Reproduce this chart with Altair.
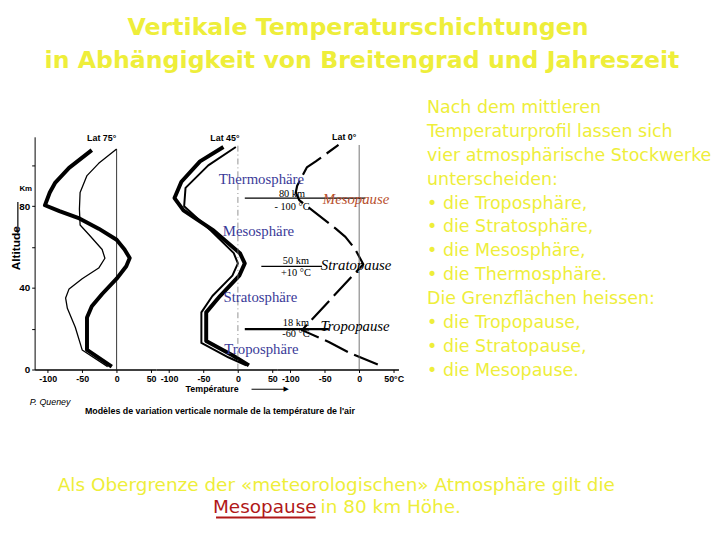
import altair as alt
import pandas as pd

# ---------------- data ----------------
# Lat 75°  (thick = summer, thin = winter)
t75_summer = [-7, -43, -43, -36, -21, 0, 14, 19, 11.5, 0, -26, -54, -83, -104, -97, -89, -69, -36]
z75_summer = [1.4, 9.6, 25.5, 31, 37, 44.5, 50.6, 54.6, 58.8, 63.6, 69, 74, 77.6, 80.5, 86.7, 91.6, 98.8, 107.5]
t75_winter = [-13, -50, -60, -71.5, -74, -69, -50, -26, -17, -21, -40, -53, -54, -53, -43, -26, 0]
z75_winter = [1.4, 9.6, 20.7, 30, 35, 39.5, 44.5, 49.7, 54.5, 58.8, 66, 70.8, 78.6, 86.7, 95, 101, 108]

# Lat 45°
t45_summer = [16, -8, -46, -46, -26, 2, 10, 3, -35, -79, -92, -82, -55, -21]
z45_summer = [2, 7, 14, 28, 36, 46, 52, 57, 68, 78, 84, 92, 102, 109]
t45_winter = [12, -14, -53, -53, -37, -8, 0, -6, -39, -78, -76, -43, -3]
z45_winter = [2, 6, 13, 28, 36, 46, 52, 57, 68, 80, 89, 100, 109]

# Lat 0°
t0 = [27, -13, -44, -83, 6, -6, -20, -34, -87, -92, -90, -76, -63, -30]
z0 = [2.4, 8, 13.5, 19.3, 51.6, 59, 65, 69, 83, 86.7, 90, 99, 102, 110]

# 0 °C reference lines (top altitude per panel)
zero_top = [108, 110, 110]

# layer boundaries drawn across panels 2/3 (altitude, T start, T end in panel-3 units)
bound_name = ["Mesopause", "Stratopause", "Tropopause"]
bound_z = [84, 50.5, 19.8]
bound_t0 = [-166, -142, -166]
bound_t1 = [9, -54, -44]

x_ticks = [-100, -50, 0, 50]
y_ticks = [0, 20, 40, 60, 80, 100]


def profile(t, z):
    return pd.DataFrame({"T": t, "z": z, "i": list(range(len(t)))})


xs = alt.Scale(domain=[-119, 57], nice=False, zero=False)
ys = alt.Scale(domain=[0, 114], nice=False, zero=False)
W, H = 123, 236

YEL = "#eeee3a"
NAVY = "#3a3a98"

HYPHEN = "replace(datum.label, '\u2212', '-')"


def xaxis(expr=HYPHEN):
    return alt.Axis(values=x_ticks, title=None, grid=False, format="d", labelExpr=expr,
                    labelFont="Liberation Sans", labelFontWeight="bold", labelFontSize=9,
                    labelColor="black", domainColor="black", domainWidth=1.5,
                    tickColor="black", tickSize=3, labelPadding=2)


def yaxis():
    return alt.Axis(values=y_ticks, title=None, grid=False,
                    labelExpr="datum.value % 40 == 0 ? datum.label : ''",
                    labelFont="Liberation Sans", labelFontWeight="bold", labelFontSize=10,
                    labelColor="black", domainColor="black", tickColor="black",
                    tickSize=3, labelPadding=2)


dummy = pd.DataFrame({"d": [0]})


def note(text, x, y, **kw):
    return alt.Chart(dummy).mark_text(text=text, **kw).encode(
        x=alt.value(x), y=alt.value(y))


def line(t, z, width, ax, ay, dash=None):
    mk = dict(color="black", strokeJoin="round", strokeWidth=width)
    if dash:
        mk["strokeDash"] = dash
    return alt.Chart(profile(t, z)).mark_line(**mk).encode(
        x=alt.X("T:Q", scale=xs, axis=ax),
        y=alt.Y("z:Q", scale=ys, axis=ay),
        order="i:Q",
    )


def zero_rule(k, ax, ay, **kw):
    d = pd.DataFrame({"T": [0], "a": [0], "b": [zero_top[k]]})
    return alt.Chart(d).mark_rule(**kw).encode(
        x=alt.X("T:Q", scale=xs, axis=ax), y=alt.Y("a:Q", scale=ys, axis=ay), y2="b:Q")


lab = dict(font="Liberation Sans", fontWeight="bold", fontSize=9, color="black")

# ---------------- panel 1 (Lat 75°) + free texts ----------------
ax1, ay1 = xaxis(), yaxis()
p1 = alt.layer(
    line(t75_summer, z75_summer, 4, ax1, ay1),
    line(t75_winter, z75_winter, 1.3, ax1, ay1),
    zero_rule(0, ax1, ay1, color="black", strokeWidth=0.8),
    note("Lat  75°", 68, 1, **lab),
    note("Km", -9, 53, font="Liberation Sans", fontWeight="bold", fontSize=8, color="black"),
    note("Altitude", -19, 113, angle=270, font="Liberation Sans", fontWeight="bold",
         fontSize=12, color="black"),
    alt.Chart(dummy).mark_rule(color="black", strokeWidth=1.2).encode(
        x=alt.value(-17), y=alt.value(66), y2=alt.value(98)),
    note("P. Queney", -5, 269, align="left", font="Liberation Sans", fontStyle="italic",
         fontSize=9, color="black"),
    note("Modèles de variation verticale normale de la température de l'air", 51, 278,
         align="left", font="Liberation Sans", fontWeight="bold", fontSize=9, color="black"),
    note("Température", 180, 256, **lab),
    alt.Chart(dummy).mark_rule(color="black", strokeWidth=1).encode(
        x=alt.value(220), x2=alt.value(254), y=alt.value(256)),
    note("▶", 255, 256, font="DejaVu Sans", fontSize=7, color="black"),
    # title
    note("Vertikale Temperaturschichtungen", 328, -110, font="DejaVu Sans",
         fontWeight="bold", fontSize=24, color=YEL),
    note("in Abhängigkeit von Breitengrad und Jahreszeit", 332, -77, font="DejaVu Sans",
         fontWeight="bold", fontSize=24, color=YEL),
    # right block
    note(["Nach dem mittleren", "Temperaturprofil lassen sich",
          "vier atmosphärische Stockwerke", "unterscheiden:",
          "• die Troposphäre,", "• die Stratosphäre,", "• die Mesosphäre,",
          "• die Thermosphäre.", "Die Grenzflächen heissen:", "• die Tropopause,",
          "• die Stratopause,", "• die Mesopause."],
         398, -29, align="left", baseline="middle", lineHeight=24.2,
         font="DejaVu Sans", fontSize=17.7, color=YEL),
    # bottom lines
    note("Als Obergrenze der «meteorologischen» Atmosphäre gilt die", 306, 353,
         font="DejaVu Sans", fontSize=18.7, color=YEL),
    note("Mesopause", 286, 376, align="right", font="DejaVu Sans", fontSize=18.7,
         color="#b01818"),
    alt.Chart(dummy).mark_rule(color="#b01818", strokeWidth=2).encode(
        x=alt.value(184), x2=alt.value(285), y=alt.value(386)),
    note("in 80 km Höhe.", 290, 376, align="left", font="DejaVu Sans", fontSize=18.7,
         color=YEL),
).properties(width=W, height=H)

# ---------------- panel 2 (Lat 45°) ----------------
ax2 = xaxis()
p2 = alt.layer(
    line(t45_summer, z45_summer, 4, ax2, None),
    line(t45_winter, z45_winter, 2, ax2, None),
    zero_rule(1, ax2, None, color="#777777", strokeWidth=0.8, strokeDash=[6, 3, 1, 3]),
    note("Lat  45°", 70, 1, **lab),
).properties(width=W, height=H)

# ---------------- panel 3 (Lat 0°) + overlay annotations ----------------
ax3 = xaxis("datum.value == 50 ? '50°C' : " + HYPHEN)
bounds_df = pd.DataFrame({"name": bound_name, "z": bound_z, "t0": bound_t0, "t1": bound_t1})
serif = dict(font="Liberation Serif")
p3 = alt.layer(
    line(t0, z0, 2.2, ax3, None, dash=[26, 7]),
    zero_rule(2, ax3, None, color="#666666", strokeWidth=0.9),
    alt.Chart(bounds_df).transform_filter("datum.name != 'Tropopause'").mark_rule(
        color="black", strokeWidth=1.2).encode(
        x=alt.X("t0:Q", scale=xs, axis=ax3), x2="t1:Q",
        y=alt.Y("z:Q", scale=ys, axis=None)),
    alt.Chart(bounds_df).transform_filter("datum.name == 'Tropopause'").mark_rule(
        color="black", strokeWidth=2.2).encode(
        x=alt.X("t0:Q", scale=xs, axis=ax3), x2="t1:Q",
        y=alt.Y("z:Q", scale=ys, axis=None)),
    note("Lat  0°", 68, 0, **lab),
    note("Thermosphäre", -16, 43, fontSize=15, color=NAVY, **serif),
    note("Mesosphäre", -19, 96, fontSize=15, color=NAVY, **serif),
    note("Stratosphäre", -17, 163, fontSize=15, color=NAVY, **serif),
    note("Troposphäre", -16, 215, fontSize=15, color=NAVY, **serif),
    note("80 km", 15, 58, fontSize=10.5, color="black", **serif),
    note("- 100 °C", 15, 71, fontSize=10.5, color="black", **serif),
    note("50 km", 19, 126, fontSize=10.5, color="black", **serif),
    note("+10 °C", 19, 138, fontSize=10.5, color="black", **serif),
    note("18 km", 19, 189, fontSize=10.5, color="black", **serif),
    note("-60 °C", 19, 200, fontSize=10.5, color="black", **serif),
    note("Mesopause", 80, 63, fontSize=15, fontStyle="italic", color="#b8502e", **serif),
    note("Stratopause", 80, 130, fontSize=15, fontStyle="italic", color="black", **serif),
    note("Tropopause", 79, 192, fontSize=15, fontStyle="italic", color="black", **serif),
).properties(width=W, height=H)

chart = alt.hconcat(p1, p2, p3, spacing=0, bounds="flush").properties(
    padding={"left": 2, "top": 5, "right": 0, "bottom": 0},
    background="white",
).configure_view(strokeWidth=0)

chart.save("out.html", embed_options={"renderer": "svg", "actions": False})
